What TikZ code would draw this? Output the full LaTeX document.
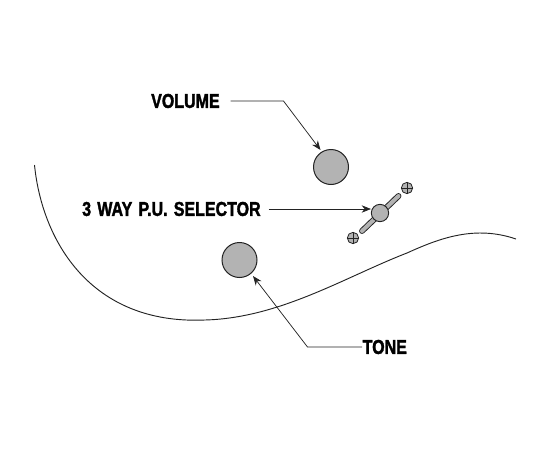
\documentclass[tikz,border=0pt]{standalone}
\usepackage{fontspec}
\setmainfont{Liberation Sans}
\newfontfamily\labfont[FakeBold=2,WordSpace=1.4]{Liberation Sans Bold}
\usetikzlibrary{arrows.meta}
\definecolor{knobgray}{RGB}{179,179,179}
\definecolor{inkc}{RGB}{35,35,35}
\tikzset{
  knob/.style={circle,draw=inkc,fill=knobgray,line width=0.75pt,minimum size=26.25pt,inner sep=0pt},
  selknob/.style={circle,draw=inkc,fill=knobgray,line width=0.7pt,minimum size=13pt,inner sep=0pt},
  screw/.style={circle,draw=inkc,fill=knobgray,line width=0.6pt,minimum size=8.5pt,inner sep=0pt},
  lab/.style={font=\labfont\fontsize{15}{16}\selectfont,text=black,inner sep=0pt,anchor=west,xscale=0.8},
  leader/.style={draw=inkc,line width=0.55pt,-{Stealth[length=7pt,width=5.5pt]}},
}
\begin{document}
\begin{tikzpicture}[x=0.75pt,y=-0.75pt]
\useasboundingbox (0,0) rectangle (550,450);
% body outline
\draw[inkc,line width=0.7pt] (34.5,165) .. controls (42,240) and (90,325) .. (205,320)
  .. controls (280,318) and (345,277) .. (407,253)
  .. controls (440,238) and (475,225) .. (516,239);
% knobs
\node[knob] (vol) at (331,167) {};
\node[knob] (tone) at (239.5,260) {};
% selector lever
\coordinate (leva) at (362,231);
\coordinate (levb) at (398.5,196);
\draw[inkc,line width=4.4pt,line cap=round] (leva) -- (levb);
\draw[knobgray,line width=3pt,line cap=round] (leva) -- (levb);
\node[selknob] (sel) at (380,213) {};
\node[screw] (s1) at (407,188) {};
\node[screw] (s2) at (353,238) {};
\draw[inkc,line width=0.5pt] (s1.west)--(s1.east) (s1.north)--(s1.south) (s2.west)--(s2.east) (s2.north)--(s2.south);
% labels
\node[lab] (lv) at (151,101) {VOLUME};
\node[lab] (ls) at (82,209) {3 WAY P.U. SELECTOR};
\node[lab] (lt) at (362.5,347) {TONE};
\coordinate (ev) at (283.5,101);
\coordinate (et) at (307.5,347);
\coordinate (sv) at (230.5,101);
\coordinate (ss) at (268.5,209);
\coordinate (st) at (362,347);
\coordinate (av) at (320.5,150);
\coordinate (as) at (371,209);
\coordinate (at) at (253,276);
\draw[leader] (sv) -- (ev) -- (av);
\draw[leader] (ss) -- (as);
\draw[leader] (st) -- (et) -- (at);
\end{tikzpicture}
\end{document}
